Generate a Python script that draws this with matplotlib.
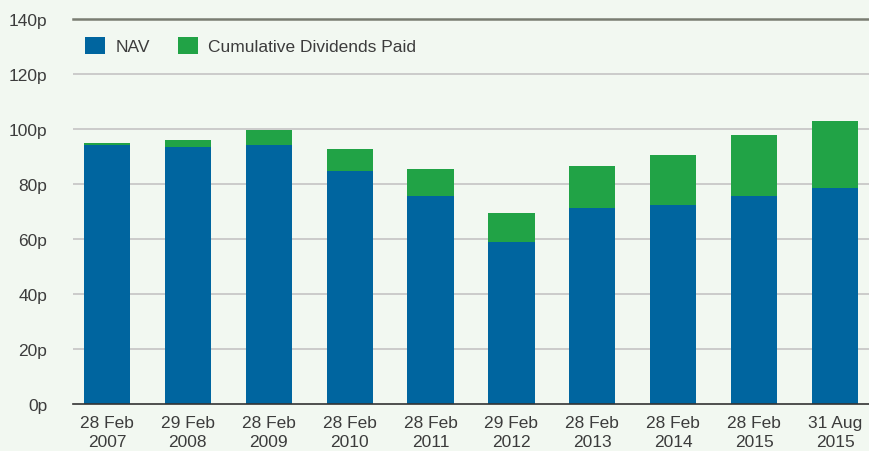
import matplotlib.pyplot as plt
import numpy as np

# data
dates = ["28 Feb\n2007", "29 Feb\n2008", "28 Feb\n2009", "28 Feb\n2010", "28 Feb\n2011",
         "29 Feb\n2012", "28 Feb\n2013", "28 Feb\n2014", "28 Feb\n2015", "31 Aug\n2015"]
nav = [94.3, 93.5, 94.3, 84.6, 75.6, 59.0, 71.3, 72.4, 75.6, 78.6]
total = [94.9, 96.0, 99.7, 92.9, 85.4, 69.5, 86.4, 90.5, 97.9, 103.0]
dividends = [t - n for t, n in zip(total, nav)]
yticks = [0, 20, 40, 60, 80, 100, 120, 140]

plt.rcParams['font.family'] = ['Liberation Sans', 'DejaVu Sans']
bg = "#f2f8f1"
blue = "#00659f"
green = "#21a346"
txt = "#3c3c3c"

fig = plt.figure(figsize=(8.69, 4.52), dpi=100, facecolor=bg)
ax = fig.add_axes([73 / 869, 1 - 405 / 452, 796 / 869, 385 / 452])
ax.set_facecolor(bg)

x = np.arange(len(dates))
ax.bar(x, nav, width=0.57, color=blue, label="NAV", zorder=3)
ax.bar(x, dividends, bottom=nav, width=0.57, color=green,
       label="Cumulative Dividends Paid", zorder=3)

ax.set_xlim(-0.42, 9.42)
ax.set_ylim(0, 140)
ax.set_yticks(yticks)
ax.set_yticklabels([f"{v}p" for v in yticks])
ax.set_xticks(x)
ax.set_xticklabels(dates, linespacing=1.3)

for v in yticks[1:-1]:
    ax.axhline(v, color="#c8c8c8", lw=1.3, zorder=1)
ax.axhline(140, color="#7a7d72", lw=1.8, zorder=1, clip_on=False)

for s in ["top", "right", "left"]:
    ax.spines[s].set_visible(False)
ax.spines["bottom"].set_color("#333333")
ax.spines["bottom"].set_linewidth(1.2)
ax.spines["bottom"].set_zorder(4)

ax.tick_params(axis="both", length=0, labelsize=12.5, colors=txt)
ax.tick_params(axis="y", pad=18.5)
ax.tick_params(axis="x", pad=8)
for lbl in ax.get_yticklabels():
    lbl.set_horizontalalignment("right")

ax.legend(loc="upper left", bbox_to_anchor=(0.0, 0.985), ncol=2, frameon=False,
          fontsize=12.5, labelcolor=txt, handlelength=1.15, handleheight=1.15,
          handletextpad=0.6, columnspacing=1.6, borderaxespad=0.3)

fig.savefig("out.png", dpi=100, facecolor=bg)
